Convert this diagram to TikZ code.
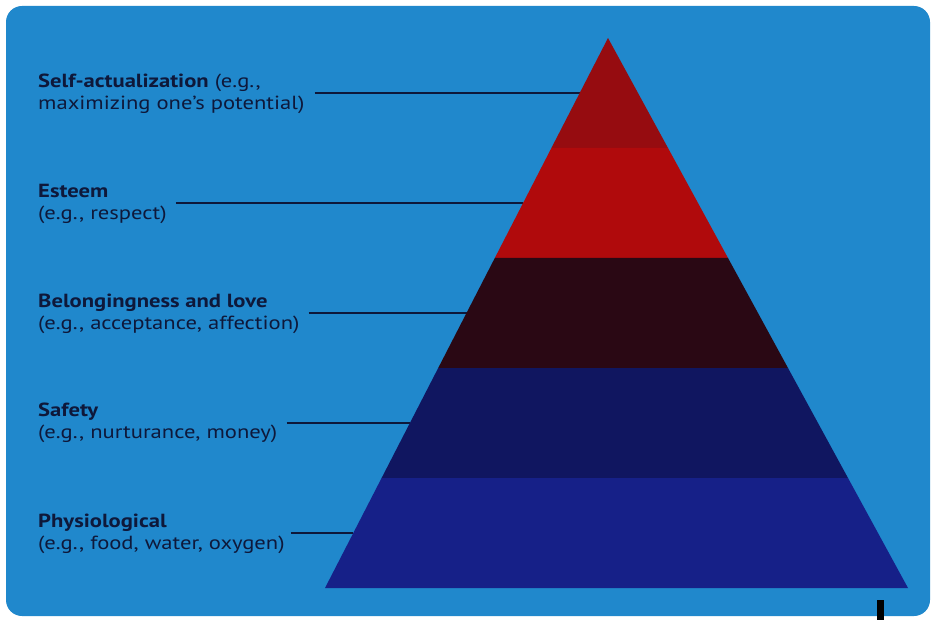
\documentclass[tikz,border=0pt]{standalone}
\usepackage{fontspec}
\setmainfont{PT Sans}[FakeStretch=1.19]
\usetikzlibrary{calc}
\definecolor{bgblue}{RGB}{32,136,204}
\definecolor{inkc}{RGB}{14,24,58}
\definecolor{bandA}{RGB}{150,12,16}
\definecolor{bandB}{RGB}{176,10,12}
\definecolor{bandC}{RGB}{42,8,20}
\definecolor{bandD}{RGB}{16,22,96}
\definecolor{bandE}{RGB}{22,32,136}
\tikzset{
  lbl/.style={anchor=west, align=left, text=inkc, font=\fontsize{19}{22}\selectfont, inner sep=0pt},
  leader/.style={draw=inkc, line width=2pt},
}
\begin{document}
\begin{tikzpicture}[x=1pt, y=-1pt]
\useasboundingbox (0,0) rectangle (932,620);
\fill[white] (0,0) rectangle (932,620);
\fill[bgblue, rounded corners=16pt] (6,6) rectangle (930,616);
% pyramid corners
\coordinate (apex) at (608,38);
\coordinate (bl) at (325,588);
\coordinate (br) at (908,588);
% band boundary points
\foreach \t/\n in {0.2/1,0.4/2,0.6/3,0.8/4}{
  \coordinate (L\n) at ($(apex)!\t!(bl)$);
  \coordinate (R\n) at ($(apex)!\t!(br)$);
}
% leader end points (middle of each band, on left edge)
\coordinate (e1) at ($(apex)!0.1!(bl)$);
\coordinate (e2) at ($(apex)!0.3!(bl)$);
\coordinate (e3) at ($(apex)!0.5!(bl)$);
\coordinate (e4) at ($(apex)!0.7!(bl)$);
\coordinate (e5) at ($(apex)!0.9!(bl)$);
% labels
\node[lbl] (s1) at (38,94) {\textbf{Self-actualization} (e.g.,\\maximizing one's potential)};
\node[lbl] (s2) at (38,204) {\textbf{Esteem}\\(e.g., respect)};
\node[lbl] (s3) at (38,314) {\textbf{Belongingness and love}\\(e.g., acceptance, affection)};
\node[lbl] (s4) at (38,423) {\textbf{Safety}\\(e.g., nurturance, money)};
\node[lbl] (s5) at (38,534) {\textbf{Physiological}\\(e.g., food, water, oxygen)};
% leaders
\draw[leader] ([xshift=10pt]s1.east |- e1) -- (e1);
\draw[leader] ([xshift=9pt]s2.east |- e2) -- (e2);
\draw[leader] ([xshift=9pt]s3.east |- e3) -- (e3);
\draw[leader] ([xshift=9pt]s4.east |- e4) -- (e4);
\draw[leader] ([xshift=6pt]s5.east |- e5) -- (e5);
% bands
\fill[bandA] (apex) -- (L1) -- (R1) -- cycle;
\fill[bandB] (L1) -- (L2) -- (R2) -- (R1) -- cycle;
\fill[bandC] (L2) -- (L3) -- (R3) -- (R2) -- cycle;
\fill[bandD] (L3) -- (L4) -- (R4) -- (R3) -- cycle;
\fill[bandE] (L4) -- (bl) -- (br) -- (R4) -- cycle;
% small dark mark bottom right
\fill[black] (877,600) rectangle (884,620);
\end{tikzpicture}
\end{document}
